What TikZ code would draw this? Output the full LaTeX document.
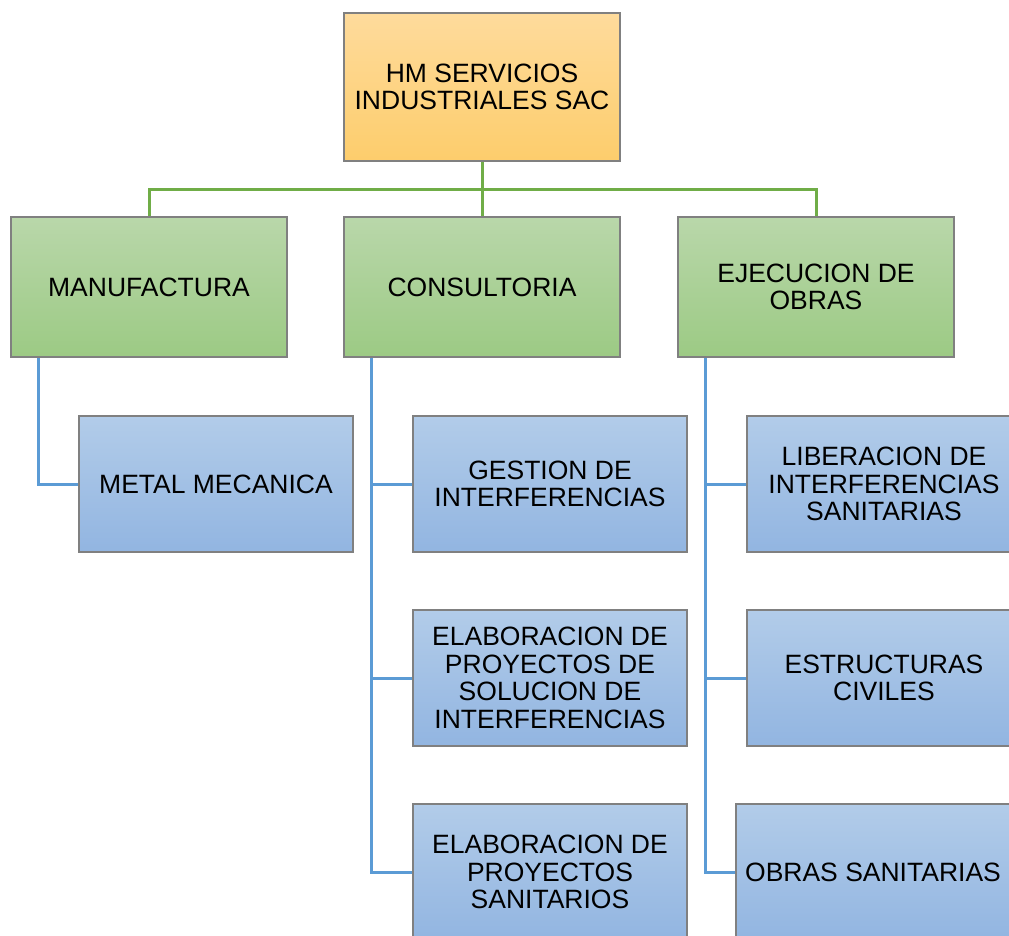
\documentclass[tikz,border=0pt]{standalone}
\usepackage{fontspec}
\setmainfont{Liberation Sans}
\definecolor{gtop}{HTML}{B9D7AA}
\definecolor{gbot}{HTML}{9CCA84}
\definecolor{btop}{HTML}{B2CCE9}
\definecolor{bbot}{HTML}{92B5E1}
\definecolor{otop}{HTML}{FEDB9C}
\definecolor{obot}{HTML}{FDCD6C}
\definecolor{gln}{HTML}{70AD47}
\definecolor{bln}{HTML}{5B9BD5}
\definecolor{brd}{HTML}{808080}
\tikzset{
  box/.style={rectangle, draw=brd, line width=1.5pt, inner sep=0pt, align=center,
    font=\fontsize{26.5}{27.6}\selectfont, minimum width=276pt, minimum height=140pt},
  topbox/.style={box, top color=otop, bottom color=obot, minimum height=148pt},
  gbox/.style={box, top color=gtop, bottom color=gbot},
  bbox/.style={box, top color=btop, bottom color=bbot, minimum height=136pt, minimum width=274pt},
  gline/.style={draw=gln, line width=3pt},
  bline/.style={draw=bln, line width=3pt},
}
\begin{document}
\begin{tikzpicture}[x=1pt,y=1pt]
\clip (0,0) rectangle (1009,-935);
\node[topbox] (top) at (482,-87) {HM SERVICIOS\\INDUSTRIALES SAC};
\node[gbox] (man) at (149,-287) {MANUFACTURA};
\node[gbox] (con) at (482,-287) {CONSULTORIA};
\node[gbox] (eje) at (816,-287) {EJECUCION DE\\OBRAS};
\node[bbox] (mm) at (216,-484) {METAL MECANICA};
\node[bbox] (c1) at (550,-484) {GESTION DE\\INTERFERENCIAS};
\node[bbox] (c2) at (550,-678) {ELABORACION DE\\PROYECTOS DE\\SOLUCION DE\\INTERFERENCIAS};
\node[bbox] (c3) at (550,-872) {ELABORACION DE\\PROYECTOS\\SANITARIOS};
\node[bbox] (e1) at (884,-484) {LIBERACION DE\\INTERFERENCIAS\\SANITARIAS};
\node[bbox] (e2) at (884,-678) {ESTRUCTURAS\\CIVILES};
\node[bbox] (e3) at (873,-872) {OBRAS SANITARIAS};
\coordinate (bus) at (482,-189);
\draw[gline] (top.south) -- (con.north);
\draw[gline] (bus) -| (man.north);
\draw[gline] (bus) -| (eje.north);
\draw[bline] ([xshift=28pt]man.south west) |- (mm.west);
\draw[bline] ([xshift=28pt]con.south west) |- (c1.west);
\draw[bline] ([xshift=28pt]con.south west) |- (c2.west);
\draw[bline] ([xshift=28pt]con.south west) |- (c3.west);
\draw[bline] ([xshift=28pt]eje.south west) |- (e1.west);
\draw[bline] ([xshift=28pt]eje.south west) |- (e2.west);
\draw[bline] ([xshift=28pt]eje.south west) |- (e3.west);
\end{tikzpicture}
\end{document}
